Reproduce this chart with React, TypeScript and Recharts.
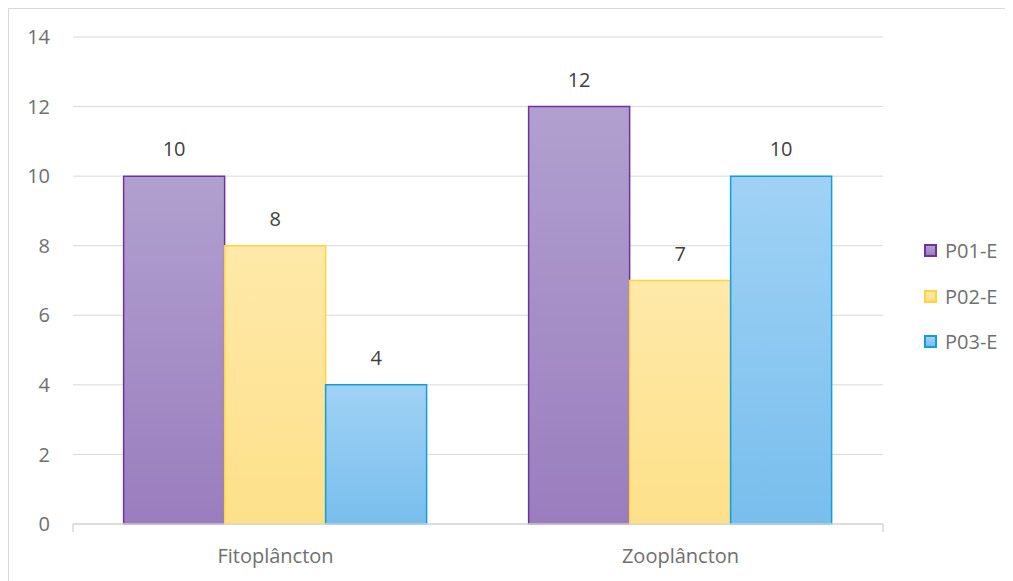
import React from 'react';
import { BarChart, Bar, XAxis, YAxis, CartesianGrid, LabelList } from 'recharts';

const categories = ['Fitoplâncton', 'Zooplâncton'];
const seriesNames = ['P01-E', 'P02-E', 'P03-E'];
const p01 = [10, 12];
const p02 = [8, 7];
const p03 = [4, 10];
const yTicks = [0, 2, 4, 6, 8, 10, 12, 14];
const edgeTicks = [0, 1, 2];

const data = categories.map((c, i) => ({ name: c, p01: p01[i], p02: p02[i], p03: p03[i] }));

const styles = [
  { key: 'p01', top: '#b1a0cf', bottom: '#9a7dbe', stroke: '#7030a0' },
  { key: 'p02', top: '#fee9a9', bottom: '#fde089', stroke: '#ffd43d' },
  { key: 'p03', top: '#a0d2f5', bottom: '#78beed', stroke: '#0f9fdb' },
];

const FONT = '"Open Sans", sans-serif';
const FS = 20;
const AXIS_TEXT = '#6f6f6f';

export default function App() {
  return (
    <div
      style={{
        position: 'relative',
        width: 1005,
        height: 600,
        border: '1px solid #d9d9d9',
        boxSizing: 'border-box',
        fontFamily: FONT,
      }}
    >
      <style>{`body{overflow:hidden}`}</style>
      <div style={{ position: 'absolute', left: 0, top: 0 }}>
        <BarChart
          width={1003}
          height={575}
          data={data}
          margin={{ top: 28, right: 129, bottom: 0, left: 0 }}
          barCategoryGap="12.5%"
          barGap={0}
        >
          <defs>
            {styles.map((s) => (
              <linearGradient key={s.key} id={`g-${s.key}`} x1="0" y1="0" x2="0" y2="1">
                <stop offset="0%" stopColor={s.top} />
                <stop offset="100%" stopColor={s.bottom} />
              </linearGradient>
            ))}
          </defs>
          <CartesianGrid horizontal vertical={false} stroke="#d9d9d9" strokeWidth={1} />
          <XAxis
            xAxisId={0}
            type="number"
            domain={[0, 2]}
            ticks={edgeTicks}
            interval={0}
            height={1}
            tickFormatter={() => ''}
            tickSize={8}
            axisLine={{ stroke: '#d9d9d9', strokeWidth: 1.5 }}
            tickLine={{ stroke: '#d9d9d9', strokeWidth: 1.5 }}
          />
          <XAxis
            xAxisId={1}
            dataKey="name"
            height={59}
            axisLine={false}
            tickLine={false}
            tickSize={0}
            tickMargin={24}
            tick={{ fill: AXIS_TEXT, fontSize: FS, fontFamily: FONT }}
          />
          <YAxis
            width={64}
            domain={[0, 14]}
            ticks={yTicks}
            axisLine={false}
            tickLine={false}
            tickSize={0}
            tickMargin={23}
            tick={{ fill: AXIS_TEXT, fontSize: FS, fontFamily: FONT }}
          />
          {styles.map((s, i) => (
            <Bar
              key={s.key}
              xAxisId={1}
              dataKey={s.key}
              name={seriesNames[i]}
              fill={`url(#g-${s.key})`}
              stroke={s.stroke}
              strokeWidth={1.5}
              isAnimationActive={false}
            >
              <LabelList
                dataKey={s.key}
                position="top"
                offset={20}
                fill="#404040"
                fontSize={FS}
                fontFamily={FONT}
              />
            </Bar>
          ))}
        </BarChart>
      </div>
      <div style={{ position: 'absolute', left: 915, top: 219 }}>
        {styles.map((s, i) => (
          <div
            key={s.key}
            style={{ display: 'flex', alignItems: 'center', height: 45.5, fontSize: FS, color: AXIS_TEXT }}
          >
            <span
              style={{
                display: 'inline-block',
                width: 13,
                height: 13,
                boxSizing: 'border-box',
                border: `2px solid ${s.stroke}`,
                background: `linear-gradient(${s.top}, ${s.bottom})`,
                marginRight: 8,
              }}
            />
            <span>{seriesNames[i]}</span>
          </div>
        ))}
      </div>
    </div>
  );
}
